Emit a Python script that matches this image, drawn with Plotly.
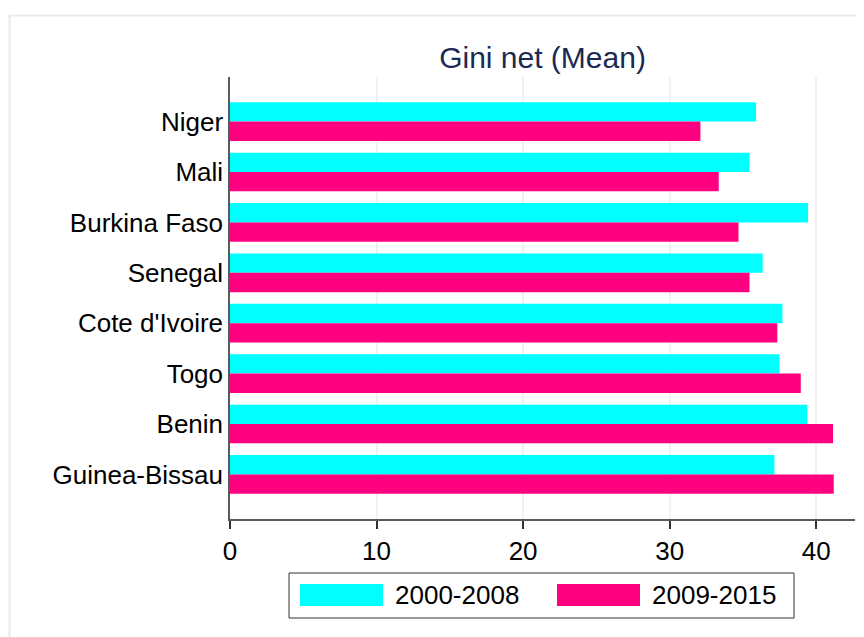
import plotly.graph_objects as go

countries = ["Niger", "Mali", "Burkina Faso", "Senegal", "Cote d'Ivoire", "Togo", "Benin", "Guinea-Bissau"]
gini_2000_2008 = [35.9, 35.45, 39.45, 36.35, 37.7, 37.5, 39.4, 37.15]
gini_2009_2015 = [32.1, 33.35, 34.7, 35.45, 37.35, 38.95, 41.15, 41.2]
series_names = ["2000-2008", "2009-2015"]
series_colors = ["#00FFFF", "#FF0080"]
x_ticks = [0, 10, 20, 30, 40]

O = 8  # page body margin offset
W, H = 864 - O, 637 - O
L, R, T, B = 230 - O, 9, 77 - O, 637 - 519
PW, PH = W - L - R, H - T - B

def px(x):
    # screen pixel x -> paper coordinate
    return (x - O - L) / PW

def py(y):
    # screen pixel y -> paper coordinate
    return (H - B - (y - O)) / PH

FONT = "Liberation Sans, Arial, Helvetica, sans-serif"
FS = 26

fig = go.Figure()
for name, vals, col in zip(series_names, [gini_2000_2008, gini_2009_2015], series_colors):
    fig.add_trace(go.Bar(
        y=countries, x=vals, name=name, orientation="h",
        marker=dict(color=col, line=dict(width=0)),
        showlegend=False,
    ))

n = len(countries)
pad = 0.385
fig.update_layout(
    width=W, height=H,
    margin=dict(l=L, r=R, t=T, b=B, autoexpand=False),
    paper_bgcolor="white", plot_bgcolor="white",
    barmode="group", bargap=0.232, bargroupgap=0,
    font=dict(family=FONT, size=FS, color="black"),
    title=dict(text="Gini net (Mean)", x=0.5, xref="paper", xanchor="center",
               y=1 - (57 - O) / H, yanchor="middle",
               font=dict(family=FONT, size=30, color="#1b2a52")),
    xaxis=dict(range=[0, 42.65], tickvals=x_ticks, ticktext=[str(v) for v in x_ticks],
               showgrid=True, gridcolor="#eef2f4", gridwidth=1.5,
               showline=True, linecolor="#5a5a5a", linewidth=1.5,
               ticks="outside", ticklen=8, tickwidth=1.5, tickcolor="#333",
               zeroline=False, tickfont=dict(size=FS, color="black"), fixedrange=True),
    yaxis=dict(categoryorder="array", categoryarray=countries,
               range=[n - 1 + 0.5 + pad, -0.5 - pad],
               showgrid=False, showline=True, linecolor="#5a5a5a", linewidth=1.5,
               ticks="", ticklabelstandoff=0, zeroline=False,
               tickfont=dict(size=FS, color="black"), fixedrange=True),
)

shapes = []
# outer frame
shapes.append(dict(type="rect", xref="paper", yref="paper",
                   x0=px(9.5), x1=px(900), y0=py(700), y1=py(15.5),
                   line=dict(color="#e5ecee", width=2), fillcolor="rgba(0,0,0,0)", layer="below"))
# legend box
shapes.append(dict(type="rect", xref="paper", yref="paper",
                   x0=px(289), x1=px(794), y0=py(618), y1=py(573),
                   line=dict(color="#333", width=1), fillcolor="white"))
swatches = [(300, 383), (557, 640)]
text_x = [393, 650]
annotations = []
for (a, b), col, name, tx in zip(swatches, series_colors, series_names, text_x):
    shapes.append(dict(type="rect", xref="paper", yref="paper",
                       x0=px(a), x1=px(b), y0=py(606), y1=py(584),
                       line=dict(width=0), fillcolor=col))
    annotations.append(dict(text=name, xref="paper", yref="paper", x=px(tx), y=py(595),
                            xanchor="left", yanchor="middle", showarrow=False,
                            font=dict(family=FONT, size=FS, color="black")))
fig.update_layout(shapes=shapes, annotations=annotations)

fig.write_html("out.html")
